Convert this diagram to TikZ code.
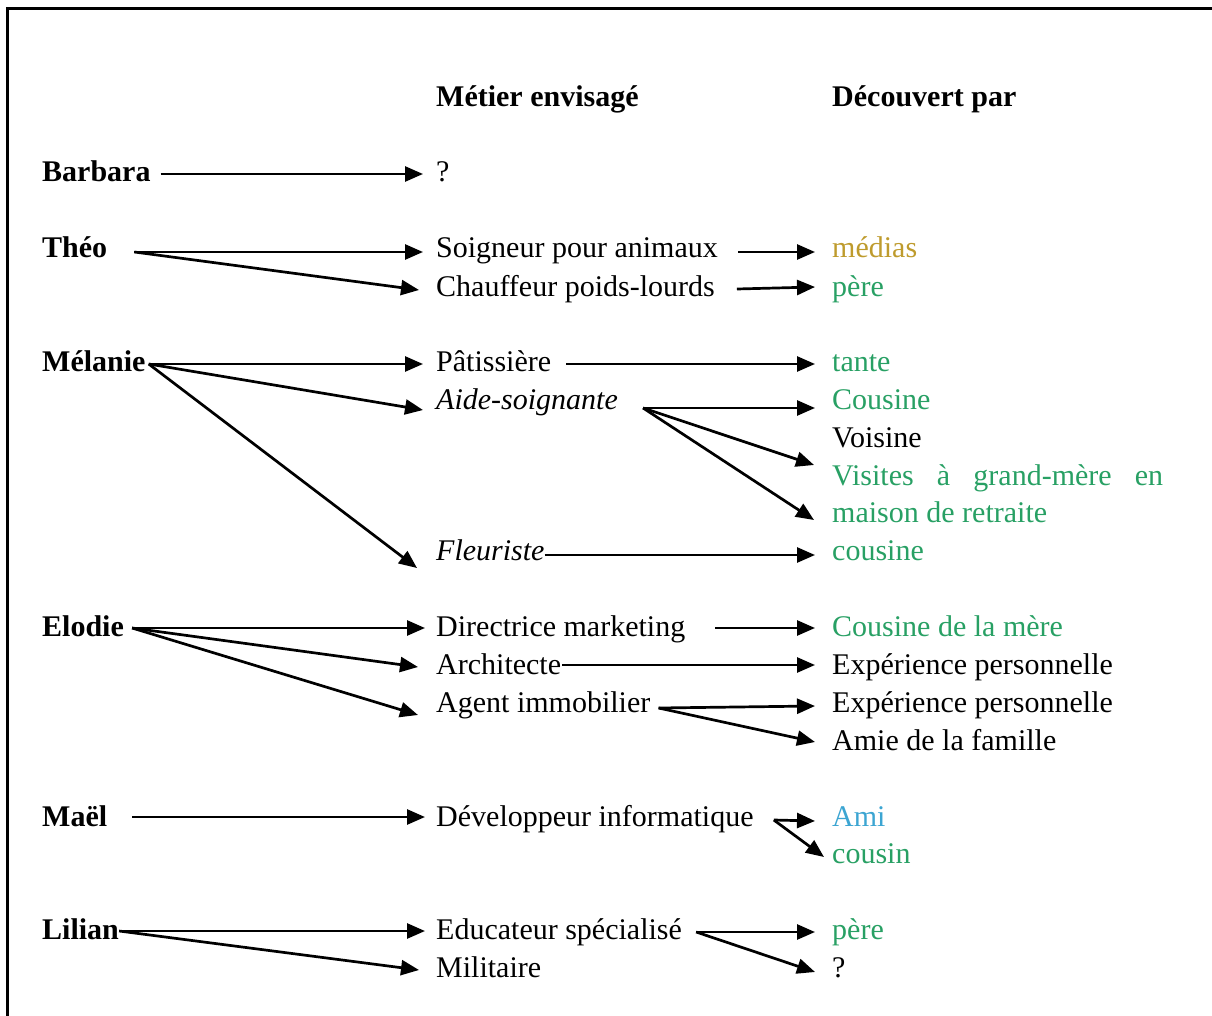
\documentclass[tikz,border=0pt]{standalone}
\usepackage{fontspec}
\setmainfont{Liberation Serif}
\usetikzlibrary{arrows.meta}
\definecolor{vert}{RGB}{40,160,100}
\definecolor{ocre}{RGB}{190,155,45}
\definecolor{bleu}{RGB}{60,165,210}
\begin{document}
\begin{tikzpicture}[x=1pt,y=-1pt,
  txt/.style={inner sep=0pt, anchor=base west, font=\fontsize{30}{36}\selectfont},
  nm/.style={txt, font=\fontsize{30}{36}\selectfont\bfseries},
  it/.style={txt, font=\fontsize{30}{36}\selectfont\itshape},
  gr/.style={txt, text=vert},
  arr/.style={line width=2.7pt, -{Triangle[length=18pt,width=15pt]}},
  frame/.style={line width=3pt}]
\useasboundingbox (0,0) rectangle (1212,1016);
\draw[frame] (7,1016) -- (7,9) -- (1212,9);

% headers
\node[nm] (h1) at (436,107) {Métier envisagé};
\node[nm] (h2) at (832,107) {Découvert par};

% names
\node[nm] (barbara) at (42,182) {Barbara};
\node[nm] (theo) at (42,258) {Théo};
\node[nm] (melanie) at (42,371) {Mélanie};
\node[nm] (elodie) at (42,636) {Elodie};
\node[nm] (mael) at (42,826) {Maël};
\node[nm] (lilian) at (42,939) {Lilian};

% metiers
\node[txt] (q1) at (436,182) {?};
\node[txt] (soig) at (436,258) {Soigneur pour animaux};
\node[txt] (chauf) at (436,296) {Chauffeur poids-lourds};
\node[txt] (pat) at (436,371) {Pâtissière};
\node[it] (aide) at (436,409) {Aide-soignante};
\node[it] (fleur) at (436,560) {Fleuriste};
\node[txt] (direc) at (436,636) {Directrice marketing};
\node[txt] (archi) at (436,674) {Architecte};
\node[txt] (agent) at (436,712) {Agent immobilier};
\node[txt] (dev) at (436,826) {Développeur informatique};
\node[txt] (educ) at (436,939) {Educateur spécialisé};
\node[txt] (milit) at (436,977) {Militaire};

% decouvert par
\node[txt, text=ocre] (medias) at (832,258) {médias};
\node[gr] (pere1) at (832,296) {père};
\node[gr] (tante) at (832,371) {tante};
\node[gr] (cous1) at (832,409) {Cousine};
\node[txt] (voisine) at (832,447) {Voisine};
\node[gr] (visites) at (832,485) {\hbox to 331pt{Visites\hfill à\hfill grand-mère\hfill en}};
\node[gr] (maison) at (832,522) {maison de retraite};
\node[gr] (cous2) at (832,560) {cousine};
\node[gr] (cmere) at (832,636) {Cousine de la mère};
\node[txt] (exp1) at (832,674) {Expérience personnelle};
\node[txt] (exp2) at (832,712) {Expérience personnelle};
\node[txt] (amie) at (832,750) {Amie de la famille};
\node[txt, text=bleu] (ami) at (832,826) {Ami};
\node[gr] (cousin) at (832,863) {cousin};
\node[gr] (pere2) at (832,939) {père};
\node[txt] (q2) at (832,977) {?};

% arrows
\draw[arr] ([shift={(10,-8)}]barbara.base east) -- ([shift={(-13,-8)}]q1.base west);

\draw[arr] ([shift={(27,-6)}]theo.base east) -- ([shift={(-13,-6)}]soig.base west);
\draw[arr] ([shift={(27,-6)}]theo.base east) -- ([shift={(-17,-6)}]chauf.base west);
\draw[arr] ([shift={(20,-6)}]soig.base east) -- ([shift={(-17,-6)}]medias.base west);
\draw[arr] ([shift={(22,-7)}]chauf.base east) -- ([shift={(-17,-9)}]pere1.base west);

\draw[arr] ([shift={(3,-7)}]melanie.base east) -- ([shift={(-13,-7)}]pat.base west);
\draw[arr] ([shift={(3,-7)}]melanie.base east) -- ([shift={(-13,1)}]aide.base west);
\draw[arr] ([shift={(3,-7)}]melanie.base east) -- ([shift={(-19,8)}]fleur.base west);
\draw[arr] ([shift={(15,-7)}]pat.base east) -- ([shift={(-17,-7)}]tante.base west);
\draw[arr] ([shift={(25,-1)}]aide.base east) -- ([shift={(-17,-1)}]cous1.base west);
\draw[arr] ([shift={(25,-1)}]aide.base east) -- ([shift={(-18,-20)}]visites.base west);
\draw[arr] ([shift={(25,-1)}]aide.base east) -- ([shift={(-18,-2)}]maison.base west);
\draw[arr] ([shift={(0,-5)}]fleur.base east) -- ([shift={(-17,-5)}]cous2.base west);

\draw[arr] ([shift={(8,-8)}]elodie.base east) -- ([shift={(-11,-8)}]direc.base west);
\draw[arr] ([shift={(8,-8)}]elodie.base east) -- ([shift={(-18,-7)}]archi.base west);
\draw[arr] ([shift={(8,-8)}]elodie.base east) -- ([shift={(-18,3)}]agent.base west);
\draw[arr] ([shift={(30,-8)}]direc.base east) -- ([shift={(-17,-8)}]cmere.base west);
\draw[arr] ([shift={(1,-9)}]archi.base east) -- ([shift={(-17,-9)}]exp1.base west);
\draw[arr] ([shift={(8,-4)}]agent.base east) -- ([shift={(-17,-6)}]exp2.base west);
\draw[arr] ([shift={(8,-4)}]agent.base east) -- ([shift={(-17,-8)}]amie.base west);

\draw[arr] ([shift={(25,-9)}]mael.base east) -- ([shift={(-11,-9)}]dev.base west);
\draw[arr] ([shift={(20,-6)}]dev.base east) -- ([shift={(-17,-5)}]ami.base west);
\draw[arr] ([shift={(20,-6)}]dev.base east) -- ([shift={(-8,-6)}]cousin.base west);

\draw[arr] ([shift={(0,-8)}]lilian.base east) -- ([shift={(-11,-8)}]educ.base west);
\draw[arr] ([shift={(0,-8)}]lilian.base east) -- ([shift={(-17,-7)}]milit.base west);
\draw[arr] ([shift={(14,-7)}]educ.base east) -- ([shift={(-17,-7)}]pere2.base west);
\draw[arr] ([shift={(14,-7)}]educ.base east) -- ([shift={(-17,-5)}]q2.base west);
\end{tikzpicture}
\end{document}
